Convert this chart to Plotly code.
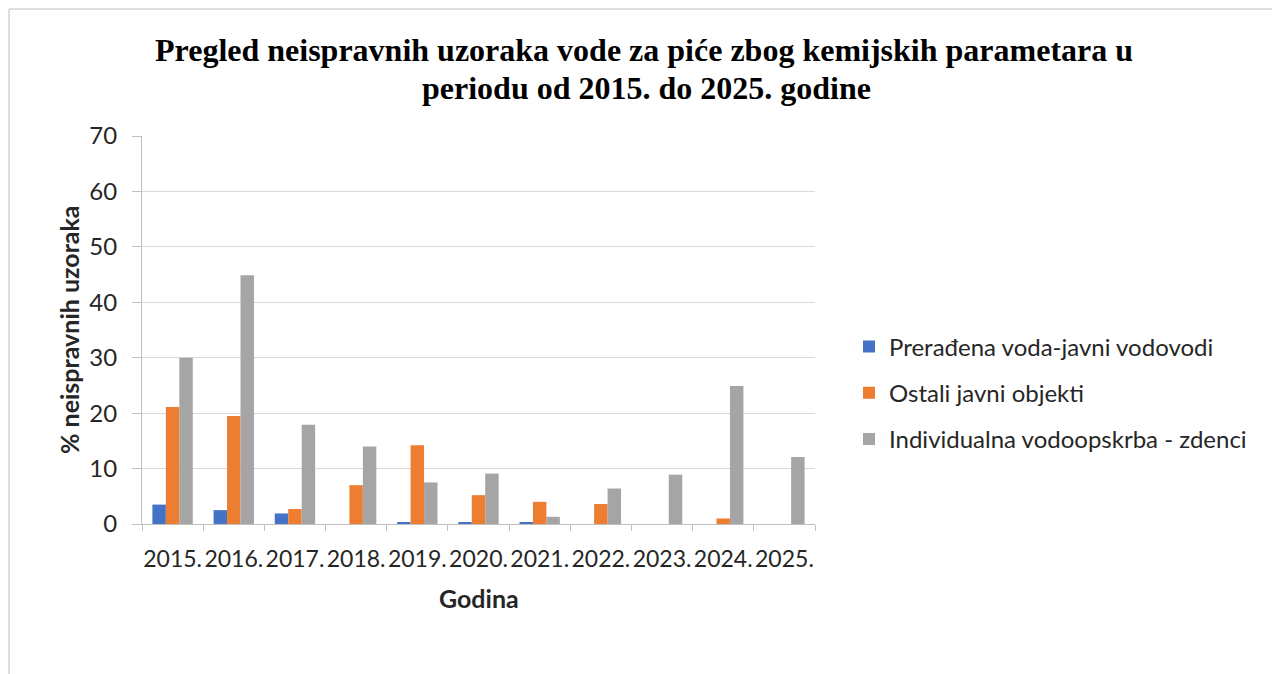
import plotly.graph_objects as go

years = ["2015.", "2016.", "2017.", "2018.", "2019.", "2020.", "2021.", "2022.", "2023.", "2024.", "2025."]
preradjena = [3.5, 2.5, 1.9, 0, 0.3, 0.3, 0.3, 0, 0, 0, 0]
ostali = [21.1, 19.5, 2.7, 7.0, 14.2, 5.2, 4.0, 3.6, 0, 1.0, 0]
individualna = [30.0, 44.9, 17.9, 14.0, 7.5, 9.1, 1.3, 6.4, 8.9, 24.9, 12.1]

series_names = ["Prerađena voda-javni vodovodi", "Ostali javni objekti", "Individualna vodoopskrba - zdenci"]
colors = ["#4472C4", "#ED7D31", "#A5A5A5"]
y_ticks = [0, 10, 20, 30, 40, 50, 60, 70]
title_lines = ["Pregled neispravnih uzoraka vode za piće zbog kemijskih parametara u",
               "periodu od 2015. do 2025. godine"]

fig = go.Figure()
for i, (name, vals) in enumerate(zip(series_names, [preradjena, ostali, individualna])):
    fig.add_trace(go.Bar(x=years, y=vals, name=name, marker=dict(color=colors[i], line=dict(width=0)),
                         legendgroup=str(i)))

OFF = 8  # default page body margin
W, H = 1280 - OFF, 674 - OFF
# plot area in page pixels: x 142..815, y 136..524
L = 142 - OFF
T = 136 - OFF
R = W - (815 - OFF)
B = H - (524 - OFF)
pw, ph = W - L - R, H - T - B

def px(x):
    return (x - OFF - L) / pw

def py(y):
    return (H - B - (y - OFF)) / ph

annotations = [
    dict(text="<b>" + title_lines[0] + "</b>", x=px(644), y=py(50), xref="paper", yref="paper",
         xanchor="center", yanchor="middle", showarrow=False,
         font=dict(family="Liberation Serif", size=32, color="black")),
    dict(text="<b>" + title_lines[1] + "</b>", x=px(646), y=py(88), xref="paper", yref="paper",
         xanchor="center", yanchor="middle", showarrow=False,
         font=dict(family="Liberation Serif", size=32, color="black")),
    dict(text="<b>Godina</b>", x=px(479), y=py(598), xref="paper", yref="paper",
         xanchor="center", yanchor="middle", showarrow=False,
         font=dict(family="Lato", size=25, color="#262626")),
    dict(text="<b>% neispravnih uzoraka</b>", x=px(69), y=py(330), xref="paper", yref="paper",
         xanchor="center", yanchor="middle", showarrow=False, textangle=-90,
         font=dict(family="Lato", size=25, color="#262626")),
]

fig.update_layout(
    width=W, height=H,
    margin=dict(l=L, r=R, t=T, b=B, autoexpand=False),
    paper_bgcolor="white", plot_bgcolor="white",
    barmode="group", bargap=0.34, bargroupgap=0,
    font=dict(family="Lato", color="#404040"),
    xaxis=dict(type="category", showline=True, linecolor="#BFBFBF", linewidth=1,
               ticks="outside", tickson="boundaries", ticklen=6, tickcolor="#BFBFBF",
               tickfont=dict(size=23, color="#262626"), tickangle=0, ticklabelstandoff=14,
               showgrid=False, automargin=False),
    yaxis=dict(range=[0, 70], tickvals=y_ticks, showline=True, linecolor="#BFBFBF", linewidth=1,
               ticks="outside", ticklen=9, tickcolor="#BFBFBF",
               gridcolor="#D9D9D9", gridwidth=1, zeroline=False,
               tickfont=dict(size=24, color="#262626"), ticklabelstandoff=10, automargin=False),
    legend=dict(x=px(849), xanchor="left", y=py(393), yanchor="middle",
                font=dict(size=24, color="#262626"), traceorder="grouped", tracegroupgap=12,
                bgcolor="rgba(0,0,0,0)"),
    annotations=annotations,
    shapes=[dict(type="rect", xref="paper", yref="paper",
                 x0=px(9), x1=px(1277), y0=py(720), y1=py(9),
                 line=dict(color="#BFBFBF", width=1), fillcolor="rgba(0,0,0,0)", layer="below")],
)

fig.write_html("out.html")
